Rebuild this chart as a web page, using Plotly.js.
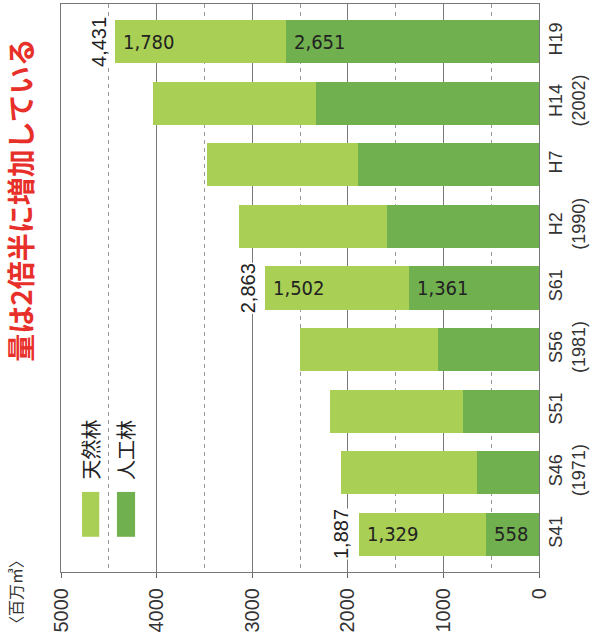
<!DOCTYPE html>
<html>
<head>
<meta charset="utf-8">
<script src="https://cdn.plot.ly/plotly-3.0.1.min.js"></script>
<style>
  html, body { margin: 0; padding: 0; background: #fff; }
  #chart { width: 597px; height: 643px; }
</style>
</head>
<body>
<div id="chart"></div>
<script>
// 森林蓄積の推移（百万㎥）
const categories = ['S41', 'S46', 'S51', 'S56', 'S61', 'H2', 'H7', 'H14', 'H19'];
const yearLabels = ['', '(1971)', '', '(1981)', '', '(1990)', '', '(2002)', ''];
const planted = [558, 650, 795, 1055, 1361, 1590, 1890, 2330, 2651];   // 人工林
const natural = [1329, 1420, 1390, 1445, 1502, 1545, 1580, 1705, 1780]; // 天然林
const labeled = ['S41', 'S61', 'H19'];
const valueTicks = [0, 1000, 2000, 3000, 4000, 5000];

const COL_NATURAL = '#a9cf55';
const COL_PLANTED = '#70b04f';
const LATIN = '"Liberation Sans", Arial, sans-serif';
const NARROW = '"Liberation Sans Narrow", "DejaVu Sans Condensed", "Liberation Sans", Arial, sans-serif';
const CJK = '"Noto Sans CJK JP", "Noto Sans", sans-serif';

const fmt = v => v.toLocaleString('en-US');
const totals = categories.map((c, i) => planted[i] + natural[i]);
const tickText = categories.map((c, i) => yearLabels[i] ? c + '<br>' + yearLabels[i] : c);

const traces = [
  { type: 'bar', orientation: 'h', name: '人工林', y: categories, x: planted,
    marker: { color: COL_PLANTED, line: { width: 0 } }, hoverinfo: 'x+name' },
  { type: 'bar', orientation: 'h', name: '天然林', y: categories, x: natural,
    marker: { color: COL_NATURAL, line: { width: 0 } }, hoverinfo: 'x+name' }
];

const annotations = [];
categories.forEach((c, i) => {
  if (!labeled.includes(c)) return;
  // total at the outer end of the bar, rotated with the axis labels
  annotations.push({ x: totals[i], y: c, xref: 'x', yref: 'y', text: fmt(totals[i]),
    showarrow: false, textangle: -90, xanchor: 'right', yanchor: 'middle', xshift: -5,
    bgcolor: '#fff', borderpad: 0, font: { family: LATIN, size: 20, color: '#222' } });
  // segment values inside the bars
  annotations.push({ x: totals[i], y: c, xref: 'x', yref: 'y', text: fmt(natural[i]),
    showarrow: false, xanchor: 'left', yanchor: 'middle', xshift: 6,
    font: { family: NARROW, size: 20, color: '#222' } });
  annotations.push({ x: planted[i], y: c, xref: 'x', yref: 'y', text: fmt(planted[i]),
    showarrow: false, xanchor: 'left', yanchor: 'middle', xshift: 6,
    font: { family: NARROW, size: 20, color: '#222' } });
});

// legend drawn as swatches + rotated labels
const legendItems = [
  { label: '天然林', color: COL_NATURAL, x0: 0.044, x1: 0.080 },
  { label: '人工林', color: COL_PLANTED, x0: 0.117, x1: 0.155 }
];
const shapes = legendItems.map(it => ({
  type: 'rect', xref: 'paper', yref: 'paper', x0: it.x0, x1: it.x1, y0: 0.062, y1: 0.141,
  fillcolor: it.color, line: { width: 0 }, layer: 'above'
}));
legendItems.forEach(it => annotations.push({
  xref: 'paper', yref: 'paper', x: (it.x0 + it.x1) / 2, y: 0.215, text: it.label,
  showarrow: false, textangle: -90, xanchor: 'center', yanchor: 'middle',
  font: { family: CJK, size: 20, color: '#222' }
}));

annotations.push({ xref: 'paper', yref: 'paper', x: -0.086, y: 0.655,
  text: '<b>量は2倍半に増加している</b>', showarrow: false, textangle: -90,
  xanchor: 'center', yanchor: 'middle', font: { family: CJK, size: 28, color: '#e8302a' } });
annotations.push({ xref: 'paper', yref: 'paper', x: -0.095, y: -0.036,
  text: '〈百万㎥〉', showarrow: false, textangle: -90,
  xanchor: 'center', yanchor: 'middle', font: { family: CJK, size: 16, color: '#333' } });

const layout = {
  width: 597, height: 643,
  margin: { l: 61, r: 58, t: 4, b: 71, pad: 0 },
  paper_bgcolor: '#fff', plot_bgcolor: '#fff',
  barmode: 'stack', bargap: 0.3, showlegend: false,
  xaxis: {
    range: [5000, 0], autorange: false, tickvals: valueTicks,
    ticktext: valueTicks.map(String), tickangle: -90,
    ticks: 'outside', ticklen: 5, tickcolor: '#666', ticklabelstandoff: 2,
    tickfont: { family: LATIN, size: 20, color: '#333' },
    showgrid: true, gridcolor: '#7a7a7a', gridwidth: 1,
    minor: { dtick: 500, showgrid: true, griddash: '4px,4px', gridcolor: '#999', gridwidth: 1 },
    showline: true, mirror: true, linecolor: '#777', linewidth: 1, zeroline: false
  },
  yaxis: {
    type: 'category', categoryarray: categories, range: [-0.61, 8.61], autorange: false,
    side: 'right', tickvals: categories, ticktext: tickText, tickangle: -90,
    tickfont: { family: LATIN, size: 18, color: '#333' }, ticks: '',
    showgrid: false, showline: true, mirror: true, linecolor: '#777', linewidth: 1,
    zeroline: false
  },
  shapes: shapes,
  annotations: annotations
};

Plotly.newPlot('chart', traces, layout, { displayModeBar: false, staticPlot: true });
</script>
</body>
</html>
